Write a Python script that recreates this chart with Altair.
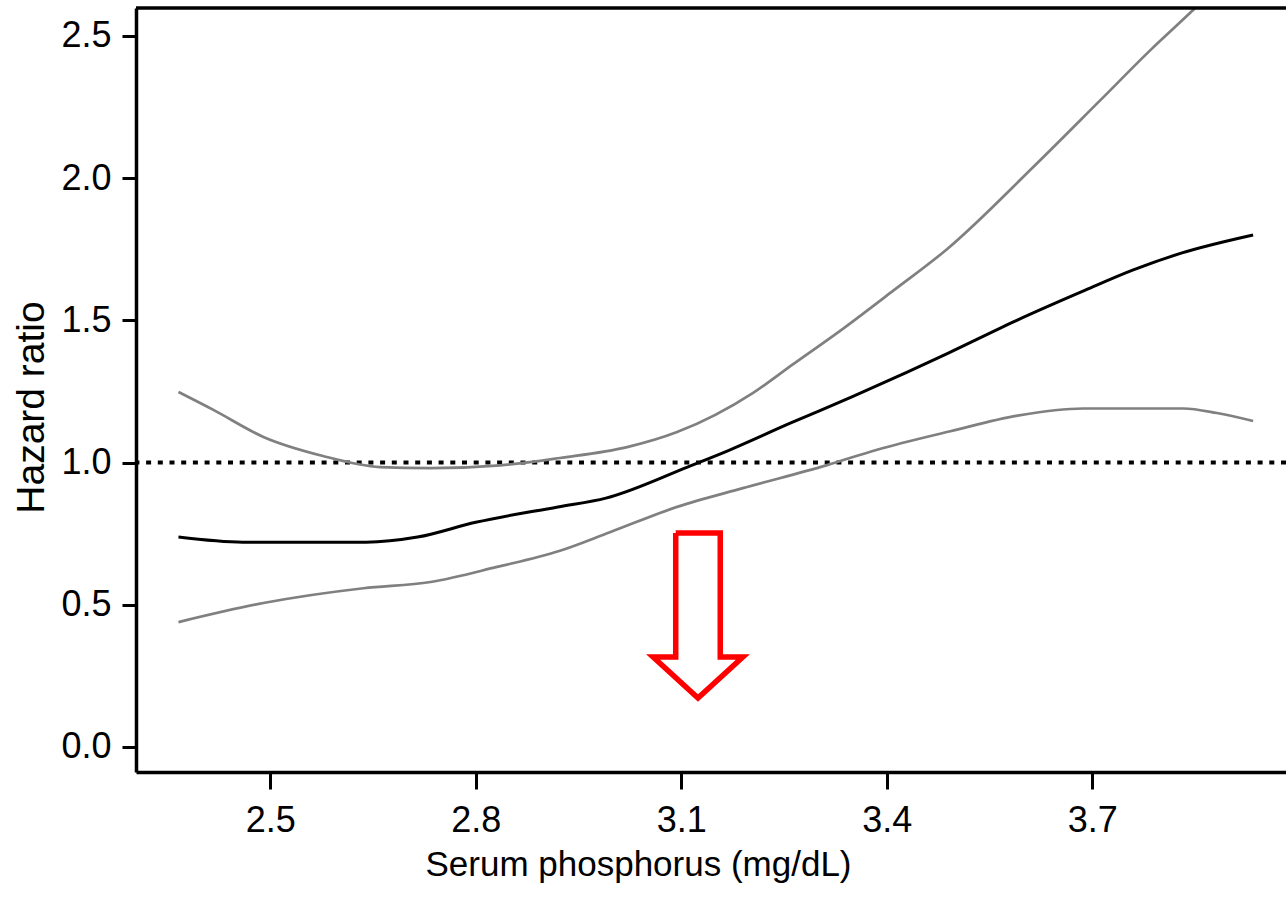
import altair as alt
import pandas as pd

# ---- data ----
center_x = [2.366, 2.46, 2.64, 2.715, 2.80, 2.92, 2.99, 3.11, 3.16, 3.26, 3.35, 3.43, 3.49, 3.59, 3.69, 3.76, 3.83, 3.935]
center_y = [0.738, 0.72, 0.72, 0.738, 0.79, 0.844, 0.875, 0.985, 1.033, 1.139, 1.232, 1.318, 1.385, 1.50, 1.606, 1.677, 1.736, 1.80]

upper_x = [2.366, 2.417, 2.49, 2.577, 2.66, 2.734, 2.836, 2.923, 3.021, 3.094, 3.205, 3.263, 3.336, 3.41, 3.488, 3.614, 3.712, 3.785, 3.847, 3.935]
upper_y = [1.248, 1.185, 1.09, 1.023, 0.984, 0.98, 0.99, 1.016, 1.054, 1.107, 1.245, 1.345, 1.47, 1.605, 1.75, 2.039, 2.274, 2.45, 2.59, 2.80]

lower_x = [2.366, 2.49, 2.636, 2.734, 2.831, 2.923, 2.996, 3.094, 3.19, 3.313, 3.386, 3.493, 3.591, 3.687, 3.833, 3.882, 3.935]
lower_y = [0.439, 0.506, 0.558, 0.58, 0.633, 0.69, 0.755, 0.844, 0.91, 0.991, 1.045, 1.110, 1.165, 1.19, 1.19, 1.174, 1.146]

reference_hr = 1.0

x_ticks = [2.5, 2.8, 3.1, 3.4, 3.7]
y_ticks = [0.0, 0.5, 1.0, 1.5, 2.0, 2.5]
x_domain = [2.304, 3.983]
y_domain = [-0.088, 2.598]

# red outlined arrow annotation (data units)
arrow_x = [3.092, 3.157, 3.157, 3.190, 3.1245, 3.059, 3.092, 3.092]
arrow_y = [0.752, 0.752, 0.316, 0.316, 0.172, 0.316, 0.316, 0.752]

FONT = "Liberation Sans"

center_df = pd.DataFrame({"x": center_x, "y": center_y})
upper_df = pd.DataFrame({"x": upper_x, "y": upper_y})
lower_df = pd.DataFrame({"x": lower_x, "y": lower_y})
arrow_df = pd.DataFrame({"x": arrow_x, "y": arrow_y, "o": list(range(len(arrow_x)))})

xscale = alt.Scale(domain=x_domain, nice=False, zero=False)
yscale = alt.Scale(domain=y_domain, nice=False, zero=False)

xaxis = alt.Axis(
    values=x_ticks, format=".1f", title="Serum phosphorus (mg/dL)",
    grid=False, domainColor="black", domainWidth=3.5, tickColor="black",
    tickWidth=3, tickSize=17, labelPadding=14, labelFont=FONT, labelFontSize=36,
    labelColor="black", titleFont=FONT, titleFontSize=35, titleFontWeight="normal",
    titleColor="black", titleX=502, titleY=103, titleBaseline="alphabetic",
)
yaxis = alt.Axis(
    values=y_ticks, format=".1f", title="Hazard ratio",
    grid=False, domainColor="black", domainWidth=3.5, tickColor="black",
    tickWidth=3, tickSize=14, labelPadding=11, labelFont=FONT, labelFontSize=36,
    labelColor="black", titleFont=FONT, titleFontSize=39, titleFontWeight="normal",
    titleColor="black", titleX=-93, titleY=399, titleBaseline="alphabetic",
)

upper = alt.Chart(upper_df).mark_line(
    color="#808080", strokeWidth=2.7, clip=True, interpolate="monotone"
).encode(
    x=alt.X("x:Q", scale=xscale, axis=xaxis),
    y=alt.Y("y:Q", scale=yscale, axis=yaxis),
)
lower = alt.Chart(lower_df).mark_line(
    color="#808080", strokeWidth=2.7, clip=True, interpolate="monotone"
).encode(x="x:Q", y="y:Q")
center = alt.Chart(center_df).mark_line(
    color="black", strokeWidth=3, clip=True, interpolate="monotone"
).encode(x="x:Q", y="y:Q")
ref = alt.Chart(pd.DataFrame({"v": [reference_hr]})).mark_rule(
    color="black", strokeWidth=4, strokeDash=[5, 6.7]
).encode(y="v:Q")
top_frame = alt.Chart(pd.DataFrame({"v": [y_domain[1]]})).mark_rule(
    color="black", strokeWidth=3.5
).encode(y="v:Q")
arrow = alt.Chart(arrow_df).mark_line(
    color="#ff0000", strokeWidth=5.5, strokeJoin="miter", strokeMiterLimit=10
).encode(x="x:Q", y="y:Q", order="o:Q")

chart = alt.layer(ref, lower, upper, center, arrow, top_frame).properties(
    width=1150, height=764,
    autosize=alt.AutoSizeParams(type="none"),
    padding={"left": 136, "top": 8, "right": 0, "bottom": 126},
).configure_view(stroke=None).configure(background="white")

chart.save("out.html", embed_options={"renderer": "svg", "actions": False})
